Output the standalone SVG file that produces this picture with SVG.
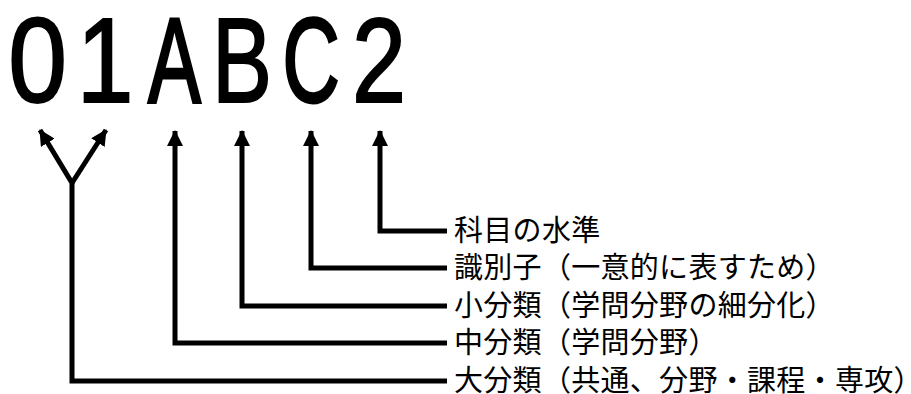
<svg xmlns="http://www.w3.org/2000/svg" width="911" height="394" viewBox="0 0 911 394">
<style>
.big{font-family:"Liberation Sans",Arial,sans-serif;font-size:120px;fill:#000;text-anchor:middle;stroke:#000;stroke-width:2px}
.wide{stroke-width:3px}
.lbl{font-family:"Noto Sans CJK JP","Noto Sans",sans-serif;font-size:29px;letter-spacing:0.3px;fill:#000}
.ln{fill:none;stroke:#000;stroke-width:5;stroke-linejoin:miter}
</style>
<defs>
<marker id="ah" markerWidth="18" markerHeight="16" refX="15" refY="8" orient="auto" markerUnits="userSpaceOnUse">
<path d="M0,0 L16,8 L0,16 Z" fill="#000"/>
</marker>
</defs>
<g id="code">
<text class="big" transform="translate(37.5,102) scale(0.88,1)">0</text>
<text class="big" transform="translate(105,102) scale(0.85,1)">1</text>
<text class="big wide" transform="translate(174.5,102) scale(0.66,1)">A</text>
<text class="big" transform="translate(242,102) scale(0.75,1)">B</text>
<text class="big wide" transform="translate(311,102) scale(0.66,1)">C</text>
<text class="big" transform="translate(379,102) scale(0.81,1)">2</text>
</g>
<g id="connectors">
<path class="ln" d="M447,381 H72 V183 L40,130" marker-end="url(#ah)"/>
<path class="ln" d="M72,183 L106,130" marker-end="url(#ah)"/>
<path class="ln" d="M447,343 H175 V131" marker-end="url(#ah)"/>
<path class="ln" d="M447,306 H242 V131" marker-end="url(#ah)"/>
<path class="ln" d="M447,268 H311 V131" marker-end="url(#ah)"/>
<path class="ln" d="M447,231 H380 V131" marker-end="url(#ah)"/>
</g>
<g id="label-level"><text class="lbl" x="454" y="241">科目の水準</text></g>
<g id="label-id"><text class="lbl" x="454" y="278">識別子（一意的に表すため）</text></g>
<g id="label-small"><text class="lbl" x="454" y="316">小分類（学問分野の細分化）</text></g>
<g id="label-mid"><text class="lbl" x="454" y="353">中分類（学問分野）</text></g>
<g id="label-large"><text class="lbl" x="454" y="391">大分類（共通、分野・課程・専攻）</text></g>
</svg>
